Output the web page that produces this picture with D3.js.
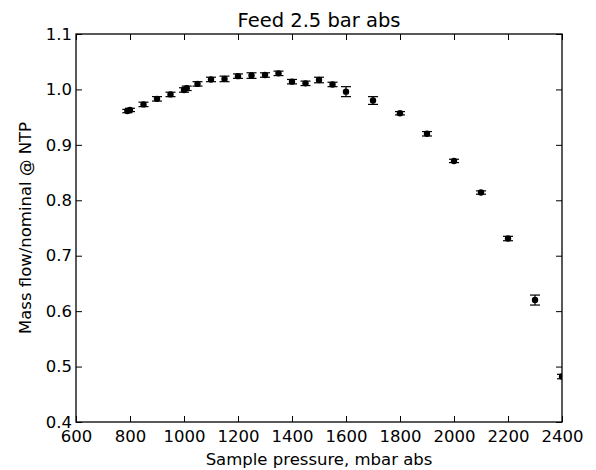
<!DOCTYPE html>
<html>
<head>
<meta charset="UTF-8">
<script src="https://d3js.org/d3.v7.min.js"></script>
<style>
  body { margin: 0; background: #fff; }
  svg text { font-family: "DejaVu Sans", sans-serif; fill: #000; }
</style>
</head>
<body>
<svg width="596" height="470"></svg>
<script>
  // sample pressure (mbar abs), mass flow / nominal, error half-width
  const pressure = [790, 800, 850, 900, 950, 1000, 1010, 1050, 1100, 1150, 1200, 1250, 1300, 1350,
                    1400, 1450, 1500, 1550, 1600, 1700, 1800, 1900, 2000, 2100, 2200, 2300, 2400];
  const flow = [0.961, 0.963, 0.973, 0.983, 0.991, 0.999, 1.002, 1.010, 1.018, 1.019, 1.024, 1.025, 1.026, 1.029,
                1.014, 1.011, 1.017, 1.009, 0.996, 0.980, 0.957, 0.920, 0.871, 0.814, 0.731, 0.620, 0.482];
  const err = [0.003, 0.003, 0.004, 0.004, 0.004, 0.004, 0.004, 0.004, 0.004, 0.005, 0.004, 0.005, 0.004, 0.004,
               0.004, 0.004, 0.005, 0.004, 0.009, 0.007, 0.003, 0.004, 0.003, 0.003, 0.004, 0.009, 0.004];
  const xTicks = [600, 800, 1000, 1200, 1400, 1600, 1800, 2000, 2200, 2400];
  const yTicks = [0.4, 0.5, 0.6, 0.7, 0.8, 0.9, 1.0, 1.1];

  const margin = {top: 34, right: 34, bottom: 48, left: 76},
        width = 596 - margin.left - margin.right,
        height = 470 - margin.top - margin.bottom;

  const svg = d3.select("svg");
  const g = svg.append("g").attr("transform", `translate(${margin.left},${margin.top})`);

  const x = d3.scaleLinear().domain([600, 2400]).range([0, width]);
  const y = d3.scaleLinear().domain([0.4, 1.1]).range([height, 0]);

  const data = pressure.map((p, i) => ({p: p, v: flow[i], e: err[i]}));

  g.append("clipPath").attr("id", "clip")
    .append("rect").attr("width", width).attr("height", height);

  const plot = g.append("g").attr("clip-path", "url(#clip)");

  // error bars
  const bars = plot.selectAll(".eb").data(data).enter().append("g").attr("class", "eb")
    .attr("stroke", "#000").attr("stroke-width", 1.2);
  bars.append("line")
    .attr("x1", d => x(d.p)).attr("x2", d => x(d.p))
    .attr("y1", d => y(d.v - d.e)).attr("y2", d => y(d.v + d.e));
  bars.append("line")
    .attr("x1", d => x(d.p) - 5).attr("x2", d => x(d.p) + 5)
    .attr("y1", d => y(d.v - d.e)).attr("y2", d => y(d.v - d.e));
  bars.append("line")
    .attr("x1", d => x(d.p) - 5).attr("x2", d => x(d.p) + 5)
    .attr("y1", d => y(d.v + d.e)).attr("y2", d => y(d.v + d.e));

  plot.selectAll("circle").data(data).enter().append("circle")
    .attr("cx", d => x(d.p)).attr("cy", d => y(d.v))
    .attr("r", 3.2).attr("fill", "#000");

  // axes, ticks inside on all four sides
  const fmtY = d => d3.format(".1f")(d);
  const axB = g.append("g").attr("transform", `translate(0,${height})`)
    .call(d3.axisBottom(x).tickValues(xTicks).tickSizeInner(-6).tickSizeOuter(0).tickPadding(8).tickFormat(d3.format("d")));
  const axT = g.append("g")
    .call(d3.axisTop(x).tickValues(xTicks).tickSizeInner(-6).tickSizeOuter(0).tickFormat(""));
  const axL = g.append("g")
    .call(d3.axisLeft(y).tickValues(yTicks).tickSizeInner(-6).tickSizeOuter(0).tickPadding(4).tickFormat(fmtY));
  const axR = g.append("g").attr("transform", `translate(${width},0)`)
    .call(d3.axisRight(y).tickValues(yTicks).tickSizeInner(-6).tickSizeOuter(0).tickFormat(""));

  [axB, axT, axL, axR].forEach(a => {
    a.select(".domain").remove();
    a.selectAll(".tick line").attr("stroke", "#000").attr("stroke-width", 1);
    a.selectAll("text").style("font-size", "16.5px").attr("fill", "#000");
  });

  g.append("rect").attr("width", width).attr("height", height)
    .attr("fill", "none").attr("stroke", "#000").attr("stroke-width", 1.3);

  svg.append("text")
    .attr("x", margin.left + width / 2).attr("y", 27)
    .attr("text-anchor", "middle").style("font-size", "19.5px")
    .text("Feed 2.5 bar abs");

  svg.append("text")
    .attr("x", margin.left + width / 2).attr("y", 465)
    .attr("text-anchor", "middle").style("font-size", "16.5px")
    .text("Sample pressure, mbar abs");

  svg.append("text")
    .attr("transform", `translate(31,${margin.top + height / 2}) rotate(-90)`)
    .attr("text-anchor", "middle").style("font-size", "16.5px")
    .text("Mass flow/nominal @ NTP");
</script>
</body>
</html>
